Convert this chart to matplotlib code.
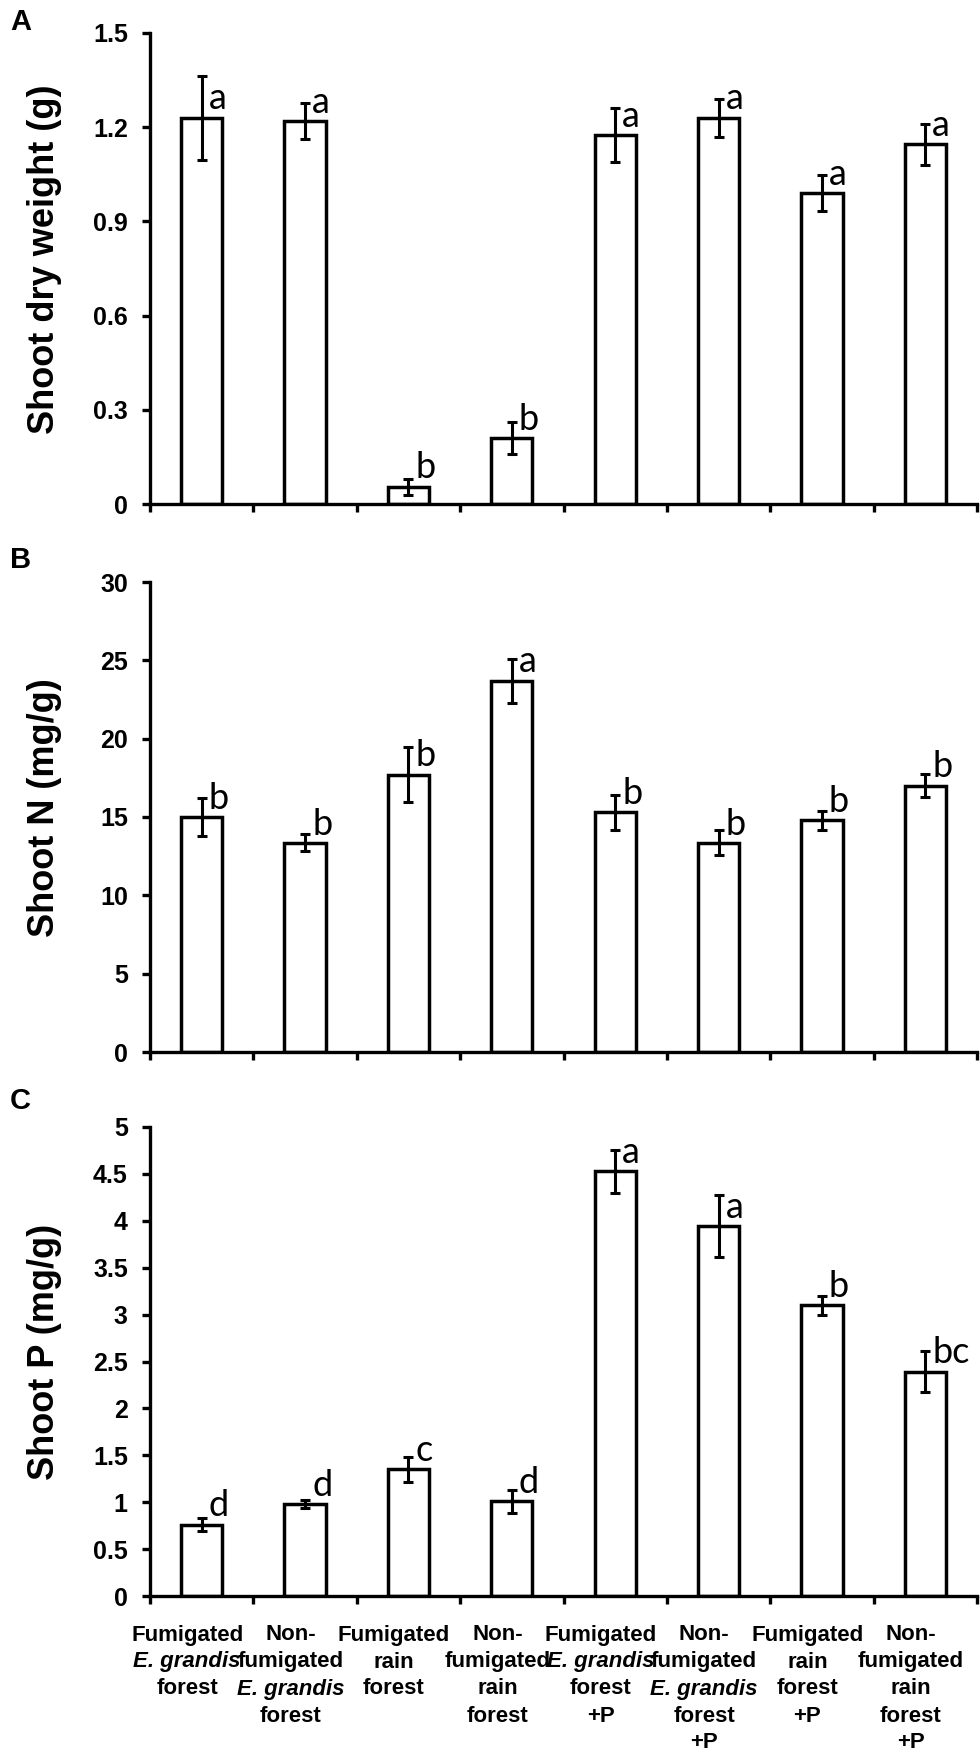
import numpy as np
import matplotlib
matplotlib.use('Agg')
import matplotlib.pyplot as plt
import matplotlib.transforms as mtransforms

plt.rcParams['font.family'] = ['Liberation Sans', 'DejaVu Sans']
plt.rcParams['font.weight'] = 'bold'

# treatment labels, one list of lines per bar (italic lines hold the species name)
categories = [
    ['Fumigated', 'E. grandis', 'forest'],
    ['Non-', 'fumigated', 'E. grandis', 'forest'],
    ['Fumigated', 'rain', 'forest'],
    ['Non-', 'fumigated', 'rain', 'forest'],
    ['Fumigated', 'E. grandis', 'forest', '+P'],
    ['Non-', 'fumigated', 'E. grandis', 'forest', '+P'],
    ['Fumigated', 'rain', 'forest', '+P'],
    ['Non-', 'fumigated', 'rain', 'forest', '+P'],
]

shoot_dw = [1.23, 1.22, 0.055, 0.21, 1.175, 1.23, 0.99, 1.145]
shoot_dw_err = [0.133, 0.057, 0.025, 0.05, 0.085, 0.06, 0.058, 0.065]
shoot_dw_sig = ['a', 'a', 'b', 'b', 'a', 'a', 'a', 'a']

shoot_n = [15.0, 13.35, 17.7, 23.7, 15.3, 13.35, 14.8, 17.0]
shoot_n_err = [1.2, 0.55, 1.75, 1.4, 1.1, 0.8, 0.6, 0.75]
shoot_n_sig = ['b', 'b', 'b', 'a', 'b', 'b', 'b', 'b']

shoot_p = [0.76, 0.98, 1.35, 1.01, 4.53, 3.94, 3.10, 2.39]
shoot_p_err = [0.07, 0.04, 0.13, 0.12, 0.23, 0.33, 0.10, 0.22]
shoot_p_sig = ['d', 'd', 'c', 'd', 'a', 'a', 'b', 'bc']

W, H = 980, 1752
fig = plt.figure(figsize=(W / 100, H / 100), dpi=100)


def draw_panel(top_px, bottom_px, values, errors, sig, ymax, nticks, ylabel, letter, letter_y):
    ax = fig.add_axes([150 / W, 1 - bottom_px / H, 827 / W, (bottom_px - top_px) / H])
    x = np.arange(len(values))
    ax.bar(x, values, width=0.4, color='white', edgecolor='black', linewidth=2.5, zorder=2)
    ax.errorbar(x, values, yerr=errors, fmt='none', ecolor='black',
                elinewidth=2.2, capsize=3.8, capthick=2.2, zorder=3)
    for xi, v, s in zip(x, values, sig):
        ax.annotate(s, xy=(xi, v), xytext=(5, 6), textcoords='offset points',
                    ha='left', va='baseline', fontsize=26, fontweight='normal',
                    family=['Lato', 'DejaVu Sans'])

    ax.set_xlim(-0.5, len(values) - 0.5)
    ax.set_ylim(0, ymax)
    yt = np.linspace(0, ymax, nticks + 1)
    ax.set_yticks(yt)
    ax.set_yticklabels([f'{v:g}' for v in yt])
    ax.set_xticks(np.arange(-0.5, len(values), 1))
    ax.set_xticklabels([])
    for side in ['top', 'right']:
        ax.spines[side].set_visible(False)
    for side in ['left', 'bottom']:
        ax.spines[side].set_linewidth(2.4)
    ax.tick_params(axis='both', direction='out', width=2.4, length=6,
                   labelsize=18, pad=10)

    tr = mtransforms.blended_transform_factory(fig.transFigure, ax.transAxes)
    ax.text(45 / W, 0.52, ylabel, transform=tr, rotation=90, ha='center',
            va='center', fontsize=26)
    fig.text(10 / W, 1 - letter_y / H, letter, fontsize=21, ha='left', va='center')
    return ax


draw_panel(33, 504, shoot_dw, shoot_dw_err, shoot_dw_sig, 1.5, 5,
           'Shoot dry weight (g)', 'A', 22)
draw_panel(582, 1052, shoot_n, shoot_n_err, shoot_n_sig, 30, 6,
           'Shoot N (mg/g)', 'B', 560)
ax = draw_panel(1127, 1596, shoot_p, shoot_p_err, shoot_p_sig, 5, 10,
                'Shoot P (mg/g)', 'C', 1101)

# multi-line category labels under the bottom panel
tr = mtransforms.blended_transform_factory(ax.transData, fig.transFigure)
for i, lines in enumerate(categories):
    for j, line in enumerate(lines):
        style = 'italic' if 'grandis' in line else 'normal'
        ax.text(i - 0.14, 1 - (1635 + 27 * j) / H, line, transform=tr,
                ha='center', va='center', fontsize=16, fontstyle=style)

fig.savefig('out.png', dpi=100)
